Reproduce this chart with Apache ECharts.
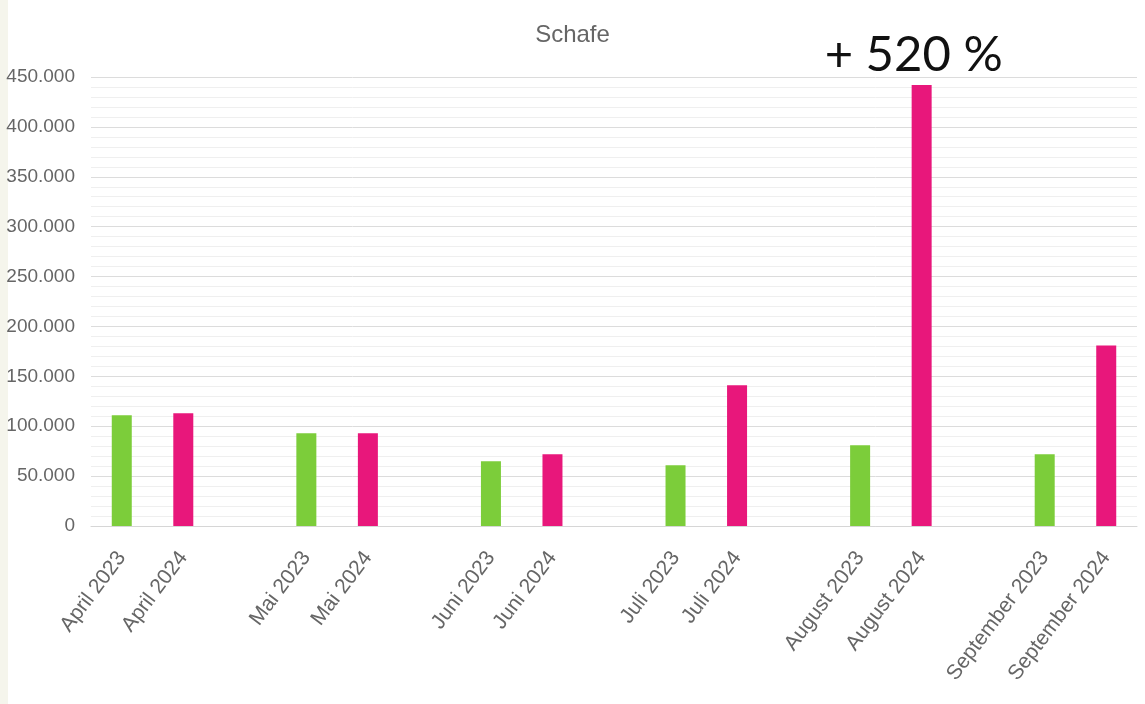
<!DOCTYPE html>
<html><head><meta charset="utf-8">
<script src="https://cdn.jsdelivr.net/npm/echarts@6/dist/echarts.min.js"></script>
<style>html,body{margin:0;padding:0;background:#fff;}#c{width:1145px;height:704px;}
#strip{position:absolute;left:0;top:0;width:8px;height:704px;background:#f5f5ec;}</style>
</head><body><div id="strip"></div><div id="c"></div>
<script>
const categories = ['April 2023','April 2024','','Mai 2023','Mai 2024','','Juni 2023','Juni 2024','','Juli 2023','Juli 2024','','August 2023','August 2024','','September 2023','September 2024'];
const values2023 = [111000,null,null,93000,null,null,65000,null,null,61000,null,null,81000,null,null,72000,null];
const values2024 = [null,113000,null,null,93000,null,null,72000,null,null,141000,null,null,442000,null,null,181000];
const annotationIndex = 13;
const annotationText = '+ 520 %';
const yTicks = {min:0,max:450000,interval:50000};

const fmt = v => v === 0 ? '0' : v.toLocaleString('de-DE');
const data2024 = values2024.map((v,i)=> i===annotationIndex ? {value:v,label:{show:true,position:'top',distance:5,offset:[-8,0],formatter:annotationText,color:'#111',fontSize:49,fontFamily:'Lato, sans-serif'}} : v);

const chart = echarts.init(document.getElementById('c'));
chart.setOption({
  animation:false,
  title:{text:'Schafe',left:'center',top:18,textStyle:{color:'#666',fontSize:24,fontWeight:'normal',fontFamily:'Liberation Sans, Arial'}},
  grid:{left:91,right:8,top:77,bottom:178,containLabel:false,outerBoundsMode:'none'},
  xAxis:{type:'category',data:categories,
    axisLine:{lineStyle:{color:'#d6d6d6'}},axisTick:{show:false},
    axisLabel:{interval:0,rotate:53,color:'#666',fontSize:21,fontFamily:'Liberation Sans, Arial',margin:28}},
  yAxis:{type:'value',min:yTicks.min,max:yTicks.max,interval:yTicks.interval,
    axisLabel:{formatter:fmt,color:'#666',fontSize:19,fontFamily:'Liberation Sans, Arial',margin:16},
    splitLine:{lineStyle:{color:'#dcdcdc'}},
    minorTick:{show:false,splitNumber:5},
    minorSplitLine:{show:true,lineStyle:{color:'#efefef'}}},
  series:[
    {type:'bar',data:values2023,barWidth:20,barGap:'-100%',itemStyle:{color:'#7ccd3a'}},
    {type:'bar',data:data2024,barWidth:20,itemStyle:{color:'#e8177b'}}
  ]
});
</script></body></html>
